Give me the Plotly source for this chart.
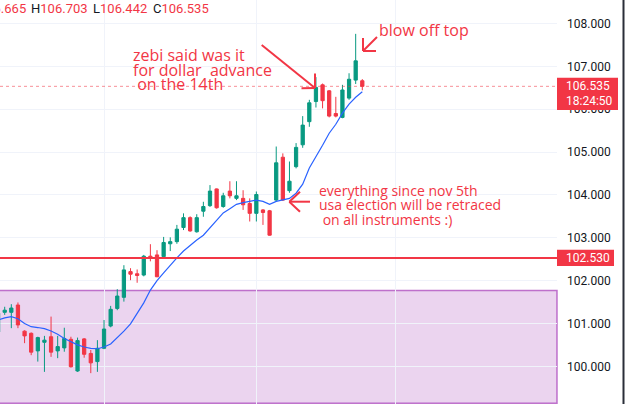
import plotly.graph_objects as go

# ---------------- data ----------------
idx = list(range(56))
opens = [100.80, 101.26, 101.26, 101.43, 100.82, 100.77, 100.36, 100.56, 100.69, 100.36,
         100.43, 100.63, 99.89, 100.64, 100.30, 100.11, 100.42, 100.94, 101.35, 101.61,
         102.21, 102.16, 102.13, 102.57, 102.60, 102.56, 102.86, 102.91, 103.24, 103.47,
         103.14, 103.62, 103.75, 104.14, 103.73, 104.09, 103.92, 103.92, 103.80, 103.57,
         103.65, 103.63, 103.88, 104.88, 104.10, 104.66, 105.17, 105.71, 106.18, 106.57,
         106.43, 105.90, 105.81, 106.26, 106.68, 106.665]
highs = [101.30, 101.39, 101.45, 101.49, 100.84, 100.79, 100.69, 100.71, 101.16, 100.71,
         100.90, 100.69, 100.67, 100.66, 100.38, 100.61, 101.08, 101.41, 101.80, 102.36,
         102.29, 102.26, 102.60, 102.85, 102.71, 103.02, 103.01, 103.30, 103.57, 103.50,
         103.55, 103.84, 104.23, 104.15, 104.05, 104.32, 104.32, 104.11, 103.92, 104.08,
         103.67, 103.65, 105.13, 104.97, 104.78, 105.21, 105.84, 106.22, 106.75, 106.60,
         106.45, 106.29, 106.57, 106.84, 107.76, 106.703]
lows = [100.75, 101.20, 100.89, 100.89, 100.54, 100.26, 100.11, 99.87, 100.22, 100.19,
        100.34, 99.97, 99.87, 100.20, 99.84, 99.87, 100.40, 100.91, 101.31, 101.51,
        102.01, 101.95, 102.10, 102.45, 102.08, 102.52, 102.69, 102.86, 103.18, 103.14,
        103.12, 103.49, 103.72, 103.68, 103.70, 103.92, 103.88, 103.65, 103.38, 103.38,
        103.30, 103.05, 103.85, 103.86, 104.05, 104.62, 105.10, 105.59, 106.04, 106.02,
        105.81, 105.81, 105.79, 106.22, 106.59, 106.442]
closes = [101.24, 101.31, 101.36, 100.965, 100.71, 100.33, 100.67, 100.61, 100.33, 100.46,
          100.65, 99.99, 100.60, 100.28, 100.08, 100.42, 100.87, 101.33, 101.64, 102.25,
          102.15, 102.12, 102.57, 102.53, 102.09, 102.89, 102.91, 103.20, 103.47, 103.16,
          103.47, 103.73, 104.09, 103.70, 103.98, 103.98, 103.98, 103.77, 103.57, 104.01,
          103.59, 103.06, 104.75, 103.88, 104.32, 105.11, 105.63, 106.15, 106.51, 106.20,
          105.84, 105.84, 106.45, 106.70, 107.13, 106.535]
ma = [101.08, 101.13, 101.16, 101.11, 101.00, 100.925, 100.905, 100.88, 100.825, 100.75,
      100.65, 100.58, 100.50, 100.45, 100.42, 100.41, 100.45, 100.52, 100.66, 100.82,
      100.99, 101.22, 101.48, 101.78, 102.00, 102.18, 102.36, 102.53, 102.69, 102.83,
      102.95, 103.06, 103.23, 103.41, 103.58, 103.68, 103.78, 103.82, 103.85, 103.88,
      103.85, 103.78, 103.85, 103.88, 103.92, 104.04, 104.25, 104.63, 104.88, 105.16,
      105.44, 105.65, 105.91, 106.12, 106.28, 106.41]
price_ticks = [100, 101, 102, 103, 104, 105, 106, 107, 108]
hline_level = 102.530
last_price = 106.535
zone_top, zone_bottom = 101.77, 99.14
countdown = "18:24:50"
ohlc_header = [("O", "106.665"), ("H", "106.703"), ("L", "106.442"), ("C", "106.535")]
time_grid = [16, 39, 60]

# ---------------- style ----------------
W, H = 625, 404
PW = 557
GREEN = "#089981"
RED = "#f23645"
TXT = "#131722"
GRID = "#f0f3fa"
FONT = "Roboto"
NOTE_FONT = "Open Sans"


def px(x):
    return x / PW


def py(y):
    return 1 - y / H


fig = go.Figure()
fig.add_trace(go.Candlestick(
    x=idx, open=opens, high=highs, low=lows, close=closes,
    increasing=dict(line=dict(color=GREEN, width=1), fillcolor=GREEN),
    decreasing=dict(line=dict(color=RED, width=1), fillcolor=RED),
    whiskerwidth=0, showlegend=False, hoverinfo="skip"))
fig.add_trace(go.Scatter(x=idx, y=ma, mode="lines", showlegend=False,
                         line=dict(color="#2962ff", width=1.2), hoverinfo="skip"))

shapes = []
# purple zone
shapes.append(dict(type="rect", xref="paper", yref="y", x0=-0.02, x1=1,
                   y0=zone_bottom, y1=zone_top, layer="below",
                   fillcolor="rgba(156,39,176,0.2)",
                   line=dict(color="rgba(171,71,188,0.75)", width=1.5)))
# horizontal level line
shapes.append(dict(type="line", xref="paper", yref="y", x0=0, x1=1,
                   y0=hline_level, y1=hline_level,
                   line=dict(color=RED, width=2)))
# last price dotted line
shapes.append(dict(type="line", xref="paper", yref="y", x0=0, x1=1,
                   y0=last_price, y1=last_price,
                   line=dict(color="rgba(242,54,69,0.55)", width=1, dash="dot")))
# price label boxes
shapes.append(dict(type="rect", xref="paper", yref="y", x0=1.0, x1=px(618),
                   y0=last_price - 0.55, y1=last_price + 0.20,
                   fillcolor=RED, line=dict(width=0)))
shapes.append(dict(type="rect", xref="paper", yref="y", x0=1.0, x1=px(614),
                   y0=hline_level - 0.19, y1=hline_level + 0.19,
                   fillcolor=RED, line=dict(width=0)))
# right border
shapes.append(dict(type="line", xref="paper", yref="paper", x0=px(623.5), x1=px(623.5),
                   y0=0, y1=1, line=dict(color="#2a2e39", width=2)))


def seg(x0, y0, x1, y1, w=2):
    shapes.append(dict(type="line", xref="paper", yref="paper",
                       x0=px(x0), y0=py(y0), x1=px(x1), y1=py(y1),
                       line=dict(color=RED, width=w)))


# arrow 1 (zebi)
seg(261.7, 45, 315, 88)
seg(315, 88, 301.5, 88.3)
seg(315, 88, 315, 73.5)
# arrow 2 (blow off top)
seg(363, 51, 377, 37)
seg(363, 51, 363, 38)
seg(363, 51, 376, 51)
# arrow 3 (everything since)
seg(289.3, 201.7, 310, 201.7)
seg(289.3, 201.7, 300, 191.7)
seg(289.3, 201.7, 300, 211.7)

ann = []


def note(text, x, y, size=14, color=RED, family=NOTE_FONT, xanchor="left"):
    ann.append(dict(text=text, xref="paper", yref="paper", x=px(x), y=py(y),
                    xanchor=xanchor, yanchor="middle", showarrow=False, borderpad=0,
                    font=dict(family=family, size=size, color=color)))


note("zebi said was it", 132, 55, size=16)
note("for dollar  advance", 132, 69.5, size=16)
note(" on the 14th", 132, 84, size=16)
note("blow off top", 378, 30, size=16)
note("everything since nov 5th", 318, 190.5, size=14)
note("usa election will be retraced", 318, 204.5, size=14)
note(" on all instruments :)", 318, 219, size=14)

# OHLC header
hx = [-31, 30, 91.7, 151.7]
for (lab, val), x in zip(ohlc_header, hx):
    note(f"<span style='color:{TXT}'>{lab}</span>{val}", x, 8, size=13, family=FONT)

# price label texts
ann.append(dict(text=f"{last_price:.3f}", xref="paper", yref="y", x=px(587.5), y=last_price,
                xanchor="center", yanchor="middle", showarrow=False,
                font=dict(family=FONT, size=12, color="white")))
ann.append(dict(text=countdown, xref="paper", yref="y", x=px(589), y=last_price - 0.345,
                xanchor="center", yanchor="middle", showarrow=False,
                font=dict(family=FONT, size=12, color="white")))
ann.append(dict(text=f"{hline_level:.3f}", xref="paper", yref="y", x=px(587.5), y=hline_level,
                xanchor="center", yanchor="middle", showarrow=False,
                font=dict(family=FONT, size=12, color="white")))

fig.update_layout(
    width=W, height=H, margin=dict(l=0, r=W - PW, t=0, b=0),
    paper_bgcolor="white", plot_bgcolor="white",
    shapes=shapes, annotations=ann, showlegend=False,
    xaxis=dict(range=[0.29, 84.4], tickvals=time_grid, showticklabels=False,
               showgrid=True, gridcolor=GRID, zeroline=False, showline=False,
               rangeslider=dict(visible=False), fixedrange=True),
    yaxis=dict(range=[99.12, 108.55], side="right", tickvals=price_ticks,
               tickformat=".3f", showgrid=True, gridcolor=GRID, zeroline=False,
               showline=False, ticks="", ticklabelstandoff=9,
               tickfont=dict(family=FONT, size=12, color=TXT), fixedrange=True),
)

fig.write_html("out.html")
